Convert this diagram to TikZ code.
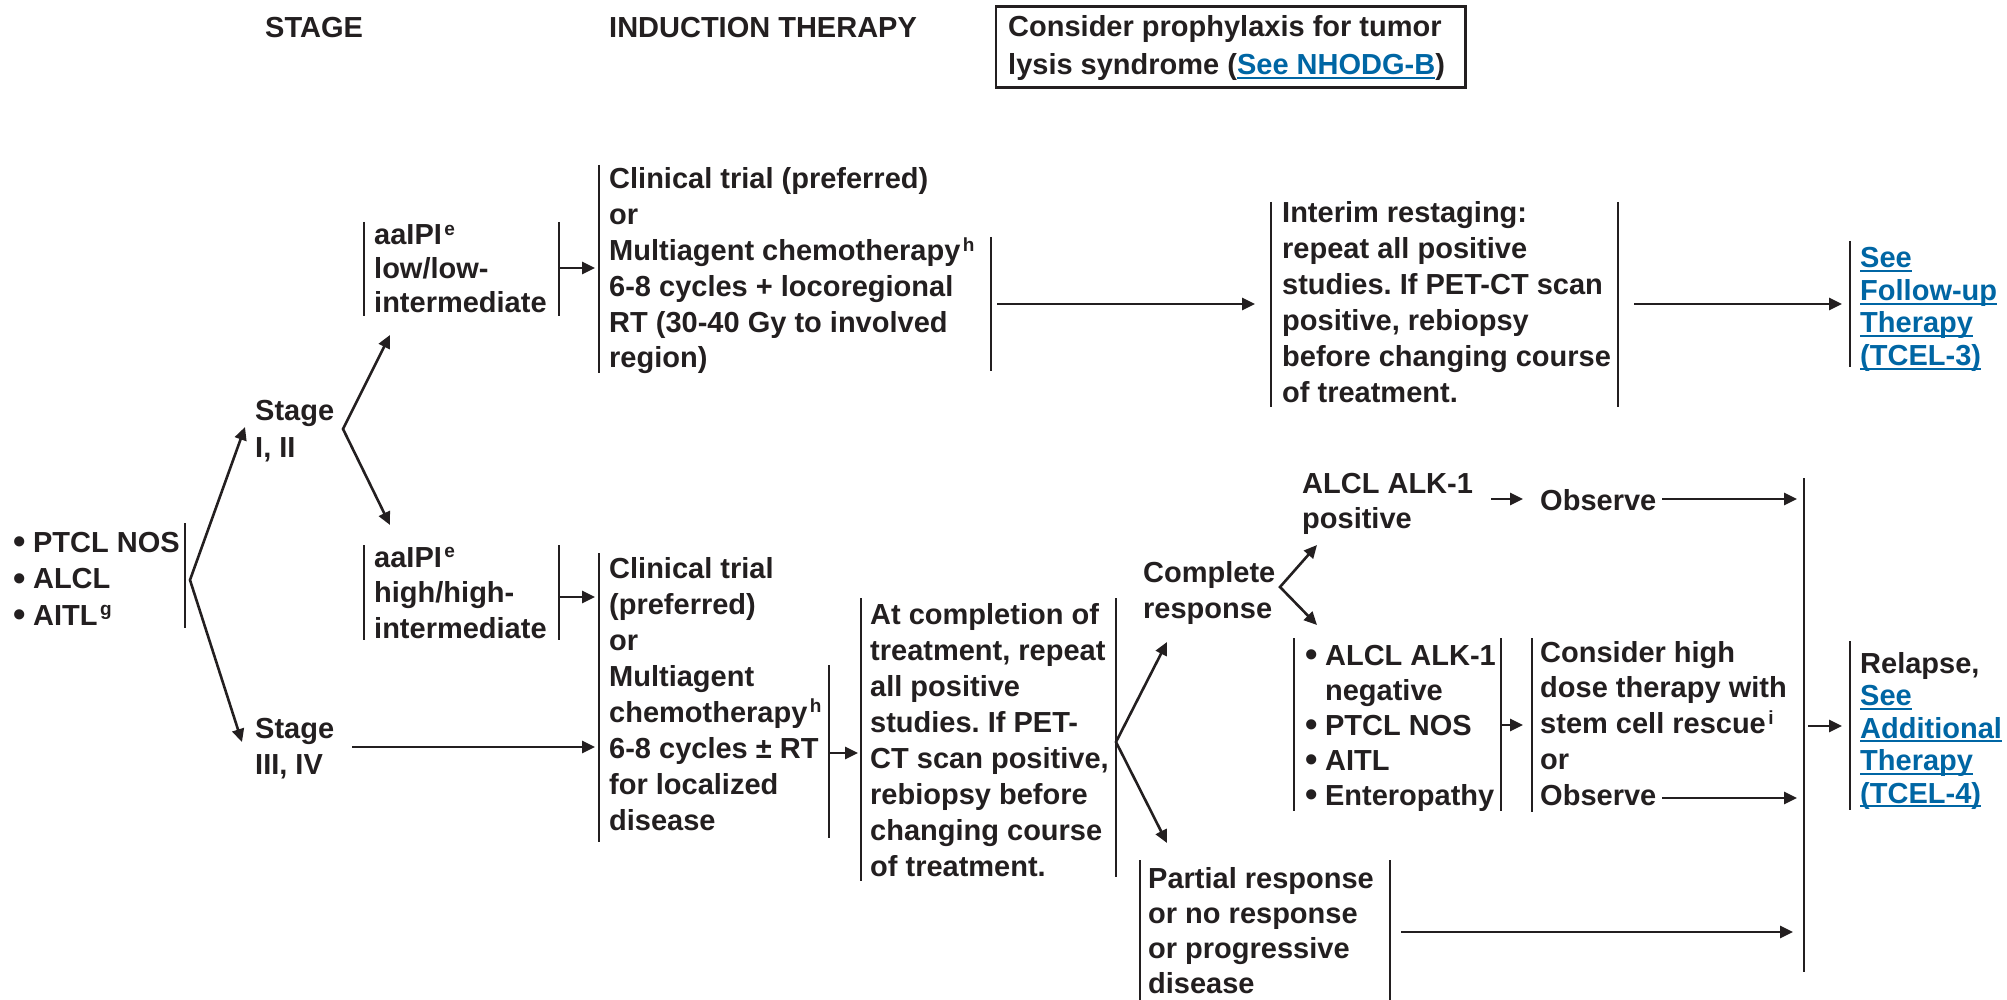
\documentclass[tikz,border=0pt]{standalone}
\usepackage{fontspec}
\usepackage{graphicx}
\setmainfont{Liberation Sans}
\usetikzlibrary{arrows.meta}
\frenchspacing

\definecolor{ink}{HTML}{231F20}
\definecolor{linkblue}{RGB}{0,102,164}

% multi-line text block: first baseline is the box baseline
\newcommand\ml[2]{\fontsize{29}{#1}\selectfont\begin{tabular}[t]{@{}l@{}}#2\end{tabular}}
% bulleted block
\newcommand\bl[2]{\fontsize{29}{#1}\selectfont\begin{tabular}[t]{@{}l@{\hspace{7.5pt}}l@{}}#2\end{tabular}}
% footnote letters
\newcommand\sups[1]{\kern2.5pt\raisebox{9.5pt}{\fontsize{19}{19}\selectfont #1}}
% underlined cross-reference
\newsavebox\lnkbox
\newcommand\lnk[1]{{\color{linkblue}\sbox\lnkbox{#1}\rlap{\rule[-4.3pt]{\wd\lnkbox}{2pt}}\usebox\lnkbox}}
\newcommand\bul{\raisebox{-1.8pt}{\scalebox{1.22}{\textbullet}}}

\tikzset{
  txt/.style={anchor=base west, inner sep=0pt, text=ink, font=\bfseries},
  bar/.style={draw=ink, line width=2.8pt},
  link/.style={draw=ink, line width=2.7pt, -{Triangle[length=13pt,width=12pt]}},
  fork/.style={draw=ink, line width=2.6pt, line join=miter,
    {Triangle[length=13pt,width=12pt]}-{Triangle[length=13pt,width=12pt]}},
  frame/.style={draw=ink, line width=2.8pt},
}

\begin{document}
\begin{tikzpicture}[x=1pt,y=-1pt]
\useasboundingbox (0,0) rectangle (2007,1000);

% ---------- headings ----------
\node[txt] (hStage) at (265,38) {\ml{36}{STAGE}};
\node[txt] (hInd) at (609,38) {\ml{36}{INDUCTION THERAPY}};
\node[txt] (tls) at (1008,37) {\ml{38}{Consider prophylaxis for tumor\\lysis syndrome (\lnk{See NHODG-B})}};
\draw[frame] ([xshift=-12pt,yshift=4pt]tls.north west) rectangle ([xshift=20pt,yshift=-1pt]tls.south east);

% ---------- text blocks ----------
\node[txt] (dx) at (13,552) {\bl{36.5}{\bul&PTCL NOS\\\bul&ALCL\\\bul&AITL\sups{g}}};
\node[txt] (s12) at (255,420) {\ml{37}{Stage\\I, II}};
\node[txt] (s34) at (255,738) {\ml{36}{Stage\\III, IV}};
\node[txt] (ipiLow) at (374,245) {\ml{34}{aaIPI\sups{e}\\low/low-\\intermediate}};
\node[txt] (ipiHigh) at (374,567) {\ml{35.5}{aaIPI\sups{e}\\high/high-\\intermediate}};
\node[txt] (ctLow) at (609,189) {\ml{35.8}{Clinical trial (preferred)\\or\\Multiagent chemotherapy\sups{h}\\6-8 cycles + locoregional\\RT (30-40 Gy to involved\\region)}};
\node[txt] (ctHigh) at (609,578) {\ml{36.1}{Clinical trial\\(preferred)\\or\\Multiagent\\chemotherapy\sups{h}\\6-8 cycles ± RT\\for localized\\disease}};
\node[txt] (interim) at (1282,223) {\ml{36}{Interim restaging:\\repeat all positive\\studies. If PET-CT scan\\positive, rebiopsy\\before changing course\\of treatment.}};
\node[txt] (fu) at (1860,268) {\ml{32.5}{\lnk{See}\\\lnk{Follow-up}\\\lnk{Therapy}\\\lnk{(TCEL-3)}}};
\node[txt] (atc) at (870,624) {\ml{36.1}{At completion of\\treatment, repeat\\all positive\\studies. If PET-\\CT scan positive,\\rebiopsy before\\changing course\\of treatment.}};
\node[txt] (cr) at (1143,582) {\ml{36}{Complete\\response}};
\node[txt] (alkPos) at (1302,493) {\ml{35}{ALCL ALK-1\\positive}};
\node[txt] (obsA) at (1540,510) {\ml{36}{Observe}};
\node[txt] (alkNeg) at (1305,665) {\bl{35}{\bul&ALCL ALK-1\\&negative\\\bul&PTCL NOS\\\bul&AITL\\\bul&Enteropathy}};
\node[txt] (hdt) at (1540,662) {\ml{35.8}{Consider high\\dose therapy with\\stem cell rescue\sups{i}\\or\\Observe}};
\node[txt] (rel) at (1860,673) {\ml{32.5}{Relapse,\\\lnk{See}\\\lnk{Additional}\\\lnk{Therapy}\\\lnk{(TCEL-4)}}};
\node[txt] (pr) at (1148,888) {\ml{35}{Partial response\\or no response\\or progressive\\disease}};

% ---------- bracket bars ----------
\draw[bar] (185,523) -- (185,628);
\draw[bar] (364,222) -- (364,316);  \draw[bar] (559,222) -- (559,316);
\draw[bar] (364,545) -- (364,640);  \draw[bar] (559,545) -- (559,640);
\draw[bar] (599,165) -- (599,373);  \draw[bar] (991,237) -- (991,371);
\draw[bar] (599,553) -- (599,842);  \draw[bar] (829,665) -- (829,838);
\draw[bar] (1271,202) -- (1271,407); \draw[bar] (1618,202) -- (1618,407);
\draw[bar] (1850,241) -- (1850,367);
\draw[bar] (861,598) -- (861,881);  \draw[bar] (1116,598) -- (1116,877);
\draw[bar] (1294,638) -- (1294,811); \draw[bar] (1501,638) -- (1501,811);
\draw[bar] (1532,638) -- (1532,812);
\draw[bar] (1804,478) -- (1804,972);
\draw[bar] (1850,641) -- (1850,810);
\draw[bar] (1140,860) -- (1140,1000); \draw[bar] (1390,860) -- (1390,1000);

% ---------- connector end points ----------
\coordinate (dxFork) at (190,580);
\coordinate (s12In) at (245,427);
\coordinate (s34In) at (242,742);
\coordinate (s12Fork) at (343,429);
\coordinate (ipiLowIn) at (390,335);
\coordinate (ipiHighIn) at (390,525);
\coordinate (ipiLowOut) at (559,268);  \coordinate (ctLowIn) at (595,268);
\coordinate (ipiHighOut) at (559,597); \coordinate (ctHighInA) at (595,597);
\coordinate (s34Out) at (352,747);     \coordinate (ctHighInB) at (595,747);
\coordinate (ctLowOut) at (997,304);   \coordinate (interimIn) at (1255,304);
\coordinate (interimOut) at (1634,304); \coordinate (fuIn) at (1842,304);
\coordinate (ctHighOut) at (829,753);  \coordinate (atcIn) at (858,753);
\coordinate (atcFork) at (1116,742);
\coordinate (crIn) at (1167,642);
\coordinate (prIn) at (1167,843);
\coordinate (crFork) at (1280,587);
\coordinate (alkPosIn) at (1317,545);
\coordinate (alkNegIn) at (1317,625);
\coordinate (alkPosOut) at (1491,499); \coordinate (obsAIn) at (1523,499);
\coordinate (obsAOut) at (1662,499);   \coordinate (sideA) at (1797,499);
\coordinate (alkNegOut) at (1501,725); \coordinate (hdtIn) at (1523,725);
\coordinate (obsBOut) at (1662,798);   \coordinate (sideB) at (1797,798);
\coordinate (prOut) at (1401,932);     \coordinate (sideC) at (1793,932);
\coordinate (sideOut) at (1808,726);   \coordinate (relIn) at (1842,726);

% ---------- connectors ----------
\draw[fork] (s12In) -- (dxFork) -- (s34In);
\draw[fork] (ipiLowIn) -- (s12Fork) -- (ipiHighIn);
\draw[link] (ipiLowOut) -- (ctLowIn);
\draw[link] (ipiHighOut) -- (ctHighInA);
\draw[link] (s34Out) -- (ctHighInB);
\draw[link] (ctLowOut) -- (interimIn);
\draw[link] (interimOut) -- (fuIn);
\draw[link] (ctHighOut) -- (atcIn);
\draw[fork] (crIn) -- (atcFork) -- (prIn);
\draw[fork] (alkPosIn) -- (crFork) -- (alkNegIn);
\draw[link] (alkPosOut) -- (obsAIn);
\draw[link] (obsAOut) -- (sideA);
\draw[link] (alkNegOut) -- (hdtIn);
\draw[link] (obsBOut) -- (sideB);
\draw[link] (prOut) -- (sideC);
\draw[link] (sideOut) -- (relIn);
\end{tikzpicture}
\end{document}
